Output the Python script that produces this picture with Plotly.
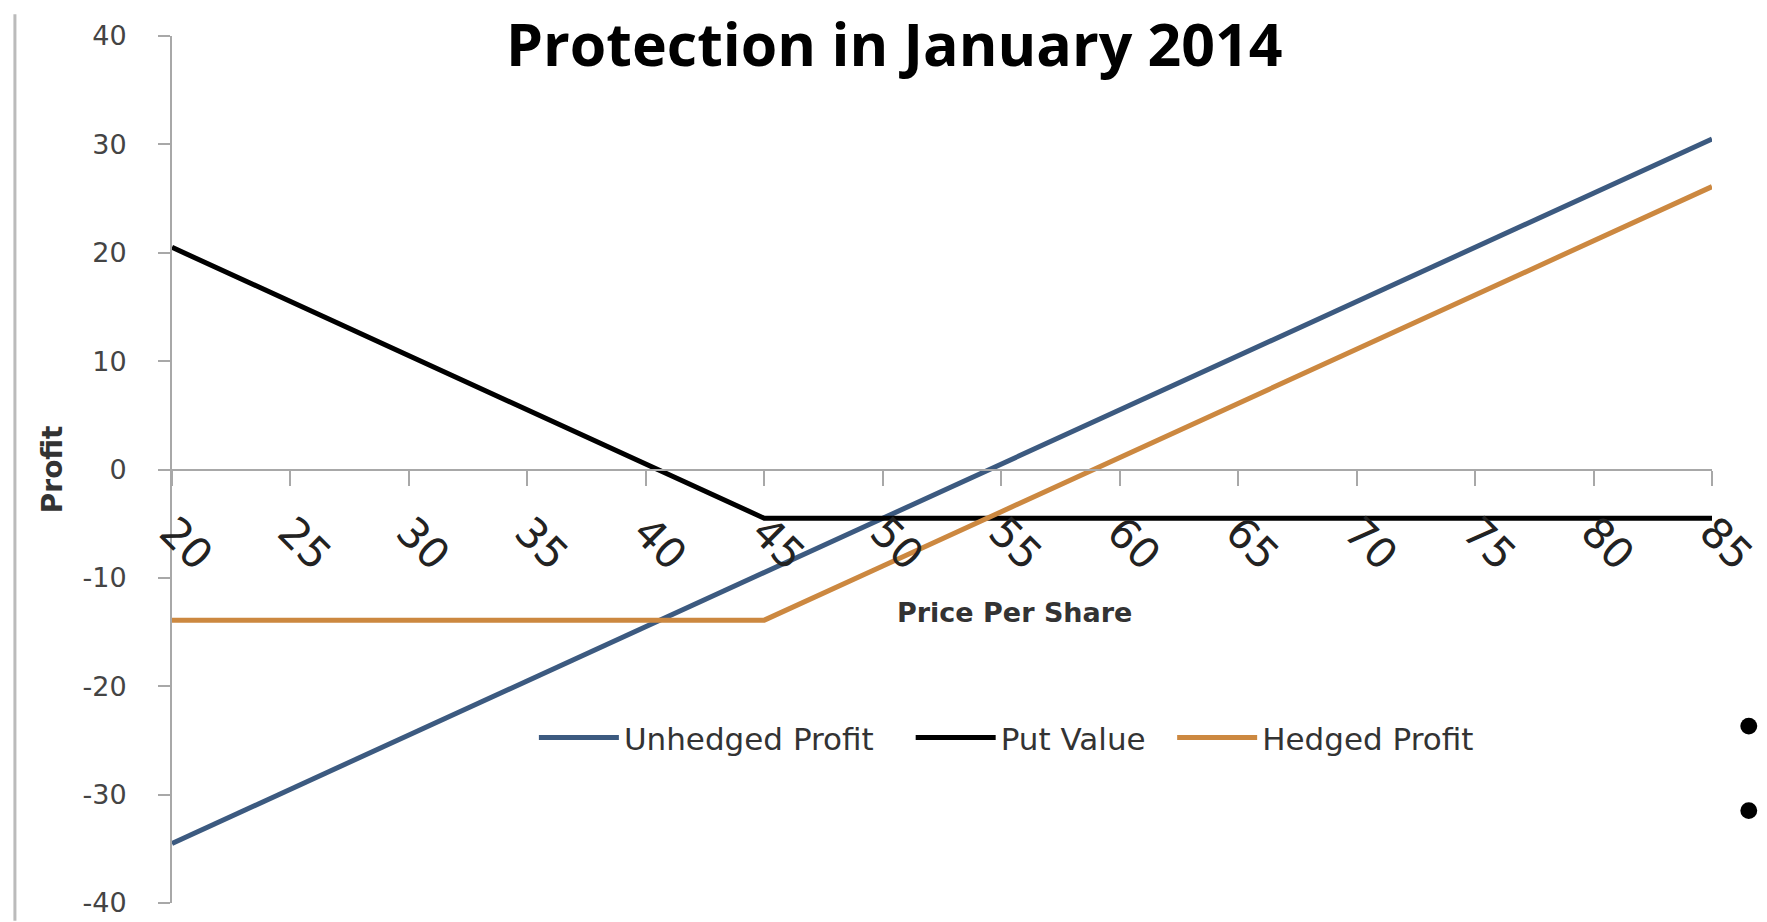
import plotly.graph_objects as go

# ---- data ----
price = [20, 25, 30, 35, 40, 45, 50, 55, 60, 65, 70, 75, 80, 85]
unhedged_profit = [-34.5, -29.5, -24.5, -19.5, -14.5, -9.5, -4.5, 0.5, 5.5, 10.5, 15.5, 20.5, 25.5, 30.5]
put_value = [20.5, 15.5, 10.5, 5.5, 0.5, -4.5, -4.5, -4.5, -4.5, -4.5, -4.5, -4.5, -4.5, -4.5]
hedged_profit = [-13.9, -13.9, -13.9, -13.9, -13.9, -13.9, -8.9, -3.9, 1.1, 6.1, 11.1, 16.1, 21.1, 26.1]
y_ticks = [-40, -30, -20, -10, 0, 10, 20, 30, 40]
y_tick_text = ["-40", "-30", "-20", "-10", "0", "10", "20", "30", "40"]
x_tick_text = ["20", "25", "30", "35", "40", "45", "50", "55", "60", "65", "70", "75", "80", "85"]

series_names = ["Unhedged Profit", "Put Value", "Hedged Profit"]
series_colors = ["#3C5A80", "#000000", "#CC8840"]

W, H = 1767, 922
L, R, T, B = 164, 54, 22, 18

def px_to_paper_x(px):
    return (px - L) / (W - L - R)

def px_to_paper_y(py):
    return (H - B - py) / (H - T - B)

legend_ids = ["legend", "legend2", "legend3"]
legend_left_px = [528, 907, 1170]

fig = go.Figure()
for name, vals, col, lg in zip(series_names, [unhedged_profit, put_value, hedged_profit], series_colors, legend_ids):
    fig.add_trace(go.Scatter(x=price, y=vals, mode="lines", name=name, legend=lg,
                             line=dict(color=col, width=5)))

legend_common = dict(orientation="h", xanchor="left", yanchor="middle",
                     font=dict(family="DejaVu Sans", size=31, color="#333333"),
                     itemwidth=80, bgcolor="rgba(0,0,0,0)")

layout_legends = {}
for lg, lx in zip(legend_ids, legend_left_px):
    layout_legends[lg] = dict(legend_common, x=px_to_paper_x(lx), y=px_to_paper_y(736))

fig.update_layout(
    width=W, height=H,
    margin=dict(l=L, r=R, t=T, b=B),
    paper_bgcolor="white", plot_bgcolor="white",
    showlegend=True,
    xaxis=dict(range=[20, 85], tickvals=price, ticktext=x_tick_text,
               anchor="free", position=0.5,
               showline=True, linecolor="#A8A8A8", linewidth=2,
               ticks="outside", ticklen=15, tickwidth=2, tickcolor="#A8A8A8",
               tickangle=45, ticklabelstandoff=5,
               tickfont=dict(family="DejaVu Sans", size=42, color="#222222"),
               showgrid=False, zeroline=False),
    yaxis=dict(range=[-40, 40], tickvals=y_ticks, ticktext=y_tick_text,
               showline=True, linecolor="#A8A8A8", linewidth=2,
               ticks="outside", ticklen=12, tickwidth=2, tickcolor="#A8A8A8",
               ticklabelstandoff=26,
               tickfont=dict(family="DejaVu Sans", size=27, color="#444444"),
               showgrid=False, zeroline=False),
    **layout_legends,
)

# left slide border
fig.add_shape(type="line", xref="paper", yref="paper",
              x0=px_to_paper_x(6), x1=px_to_paper_x(6), y0=px_to_paper_y(0), y1=px_to_paper_y(922),
              line=dict(color="#BBBBBB", width=3), layer="above")

# title
fig.add_annotation(text="Protection in January 2014", xref="paper", yref="paper",
                   x=px_to_paper_x(891), y=px_to_paper_y(29), xanchor="center", yanchor="middle",
                   showarrow=False, font=dict(family="Open Sans", size=59, color="#000000", weight="bold"))
# axis titles
fig.add_annotation(text="Price Per Share", xref="paper", yref="paper",
                   x=px_to_paper_x(1011), y=px_to_paper_y(608), xanchor="center", yanchor="middle",
                   showarrow=False, font=dict(family="DejaVu Sans", size=27, color="#333333", weight="bold"))
fig.add_annotation(text="Profit", xref="paper", yref="paper", textangle=-90,
                   x=px_to_paper_x(44), y=px_to_paper_y(463), xanchor="center", yanchor="middle",
                   showarrow=False, font=dict(family="DejaVu Sans", size=28, color="#333333", weight="bold"))
# slide bullets
for by in [724, 810]:
    fig.add_shape(type="circle", xref="paper", yref="paper",
                  x0=px_to_paper_x(1741.5), x1=px_to_paper_x(1758.5),
                  y0=px_to_paper_y(by + 8.5), y1=px_to_paper_y(by - 8.5),
                  fillcolor="#000000", line=dict(width=0))

fig.write_html("out.html")
